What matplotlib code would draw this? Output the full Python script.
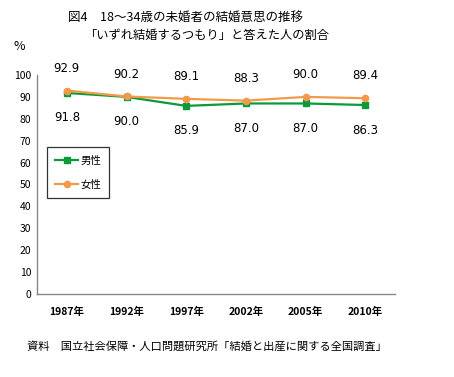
import numpy as np
import matplotlib
matplotlib.use("Agg")
from matplotlib import pyplot as plt

plt.rcParams['font.family'] = ['Noto Sans CJK JP', 'DejaVu Sans']

years = ['1987年', '1992年', '1997年', '2002年', '2005年', '2010年']
male = [91.8, 90.0, 85.9, 87.0, 87.0, 86.3]
female = [92.9, 90.2, 89.1, 88.3, 90.0, 89.4]
yticks = list(range(0, 101, 10))

fig = plt.figure(figsize=(4.54, 3.77), dpi=100)
ax = fig.add_axes([37 / 454, 1 - 294 / 377, 358 / 454, 219 / 377])

x = np.arange(len(years))
green = '#0a9a3c'
orange = '#f39a4a'
ax.plot(x, male, color=green, lw=1.6, marker='s', ms=5, label='男性', zorder=3)
ax.plot(x, female, color=orange, lw=1.6, marker='o', ms=4.5, label='女性', zorder=4)

for xi, v in zip(x, female):
    ax.annotate(f'{v:.1f}', (xi, v), xytext=(0, 16), textcoords='offset points',
                ha='center', va='center', fontsize=8.5, family='DejaVu Sans')
for xi, v in zip(x, male):
    ax.annotate(f'{v:.1f}', (xi, v), xytext=(0, -18), textcoords='offset points',
                ha='center', va='center', fontsize=8.5, family='DejaVu Sans')

ax.set_xlim(-0.5, len(years) - 0.5)
ax.set_ylim(0, 100)
ax.set_yticks(yticks)
ax.set_xticks(x)
ax.set_xticklabels(years, fontsize=7.5, fontweight='bold')
ax.tick_params(axis='y', labelsize=7.5, length=0, pad=4)
ax.tick_params(axis='x', length=0, pad=9)
for s in ['top', 'right']:
    ax.spines[s].set_visible(False)
for s in ['left', 'bottom']:
    ax.spines[s].set_color('#888888')
    ax.spines[s].set_linewidth(1.0)

leg = ax.legend(loc='upper left', bbox_to_anchor=(0.028, 0.67), fontsize=7.5,
                frameon=True, fancybox=False, edgecolor='black', borderaxespad=0,
                handlelength=2.2, borderpad=0.8, labelspacing=1.3, handletextpad=0.2)
leg.get_frame().set_linewidth(0.9)

fig.text(186 / 454, 1 - 17 / 377, '図4　18～34歳の未婚者の結婚意思の推移', ha='center', va='center', fontsize=9)
fig.text(207 / 454, 1 - 35 / 377, '「いずれ結婚するつもり」と答えた人の割合', ha='center', va='center', fontsize=8.8)
fig.text(13 / 454, 1 - 47 / 377, '%', ha='left', va='center', fontsize=9)
fig.text(27 / 454, 1 - 346 / 377, '資料　国立社会保障・人口問題研究所「結婚と出産に関する全国調査」',
         ha='left', va='center', fontsize=8.1)

fig.savefig('out.png', dpi=100)
